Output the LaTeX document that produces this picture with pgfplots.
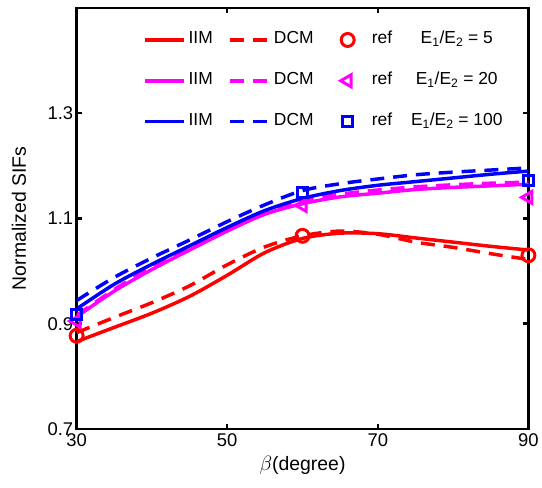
\documentclass[border=0pt]{standalone}
\usepackage{fontspec}
\setmainfont{Liberation Sans}
\usepackage{pgfplots}
\pgfplotsset{compat=1.18}
\definecolor{cred}{RGB}{255,0,0}
\definecolor{cmag}{RGB}{255,0,255}
\definecolor{cblue}{RGB}{0,0,255}
\tikzset{mk/.style={line width=3pt, solid}}
\begin{document}
\begin{tikzpicture}
\begin{axis}[
  scale only axis, width=454pt, height=423pt,
  xmin=30, xmax=90, ymin=0.7, ymax=1.5,
  xtick={30,50,70,90}, ytick={0.7,0.9,1.1,1.3},
  tick align=inside, major tick length=5pt,
  tick style={line width=2.5pt, black},
  axis line style={line width=2.8pt},
  /pgf/number format/assume math mode=true,
  yticklabel style={/pgf/number format/.cd, fixed, fixed zerofill, precision=1},
  tick label style={font=\fontsize{18.5}{21}\selectfont},
  xticklabel style={yshift=-1pt},
  xlabel={$\beta$(degree)},
  ylabel={Normalized SIFs},
  label style={font=\fontsize{19.5}{23}\selectfont},
  xlabel style={at={(axis description cs:0.5,-0.0875)}, anchor=center},
  ylabel style={at={(axis description cs:-0.1278,0.5)}, anchor=center},
  legend columns=4,
  legend style={draw=none, fill=none, inner sep=0pt, outer sep=0pt,
    at={(axis description cs:0.1476,0.950)}, anchor=north west,
    font=\fontsize{17.5}{20}\selectfont, row sep=19pt,
    nodes={inner sep=3pt, text height=12pt, text depth=4pt},
    /tikz/every even column/.append style={column sep=13pt}},
  solidleg/.style={legend image code/.code={\draw[##1] (0pt,0pt) -- (39pt,0pt);}},
  dashleg/.style={legend image code/.code={\draw[##1] (0pt,0pt) -- (39pt,0pt);}},
  markleg/.style={legend image code/.code={\path (0pt,0pt) (39pt,0pt); \draw[##1] plot coordinates {(18pt,0pt)};}},
  dsh/.style={dash pattern=on 14pt off 9pt},
  lw/.style={line width=3.5pt},
]
% ---- E1/E2 = 5 (red)
\addplot[cred, lw, smooth, solidleg] coordinates {
(30,0.866) (35,0.893) (40,0.920) (45,0.952) (50,0.992) (55,1.035) (60,1.062)
(65,1.072) (70,1.071) (75,1.063) (80,1.055) (85,1.047) (90,1.040)};
\addlegendentry{IIM}
\addplot[cred, lw, smooth, dsh, dashleg] coordinates {
(30,0.883) (35,0.912) (40,0.940) (45,0.972) (50,1.012) (55,1.046) (60,1.067)
(65,1.076) (70,1.070) (75,1.055) (80,1.045) (85,1.033) (90,1.022)};
\addlegendentry{DCM}
\addplot[cred, only marks, mark=o, mark size=6.5pt, mark options={mk}, markleg] coordinates {
(30,0.877) (60,1.067) (90,1.030)};
\addlegendentry{ref}
\addlegendimage{empty legend}
\addlegendentry{E\textsubscript{1}/E\textsubscript{2} = 5}
% ---- E1/E2 = 20 (magenta)
\addplot[cmag, lw, smooth, solidleg] coordinates {
(30,0.913) (35,0.962) (40,1.003) (45,1.040) (50,1.076) (55,1.108) (60,1.128)
(65,1.141) (70,1.148) (75,1.155) (80,1.159) (85,1.162) (90,1.165)};
\addlegendentry{IIM}
\addplot[cmag, lw, smooth, dsh, dashleg] coordinates {
(30,0.916) (35,0.965) (40,1.008) (45,1.045) (50,1.080) (55,1.112) (60,1.133)
(65,1.146) (70,1.154) (75,1.160) (80,1.164) (85,1.167) (90,1.169)};
\addlegendentry{DCM}
\addplot[cmag, only marks, mark=triangle, mark size=7pt, mark options={mk, rotate=90}, markleg] coordinates {
(30,0.905) (60,1.125) (90,1.140)};
\addlegendentry{ref}
\addlegendimage{empty legend}
\addlegendentry{E\textsubscript{1}/E\textsubscript{2} = 20}
% ---- E1/E2 = 100 (blue)
\addplot[cblue, lw, smooth, solidleg] coordinates {
(30,0.928) (35,0.975) (40,1.013) (45,1.048) (50,1.083) (55,1.115) (60,1.138)
(65,1.153) (70,1.163) (75,1.170) (80,1.177) (85,1.184) (90,1.190)};
\addlegendentry{IIM}
\addplot[cblue, lw, smooth, dsh, dashleg] coordinates {
(30,0.944) (35,0.988) (40,1.025) (45,1.059) (50,1.094) (55,1.126) (60,1.153)
(65,1.166) (70,1.175) (75,1.183) (80,1.188) (85,1.192) (90,1.196)};
\addlegendentry{DCM}
\addplot[cblue, only marks, mark=square, mark size=5pt, mark options={mk}, markleg] coordinates {
(30,0.918) (60,1.150) (90,1.172)};
\addlegendentry{ref}
\addlegendimage{empty legend}
\addlegendentry{E\textsubscript{1}/E\textsubscript{2} = 100}
\end{axis}
\path (-77pt,-59pt) rectangle (465pt,431pt);
\end{tikzpicture}
\end{document}
